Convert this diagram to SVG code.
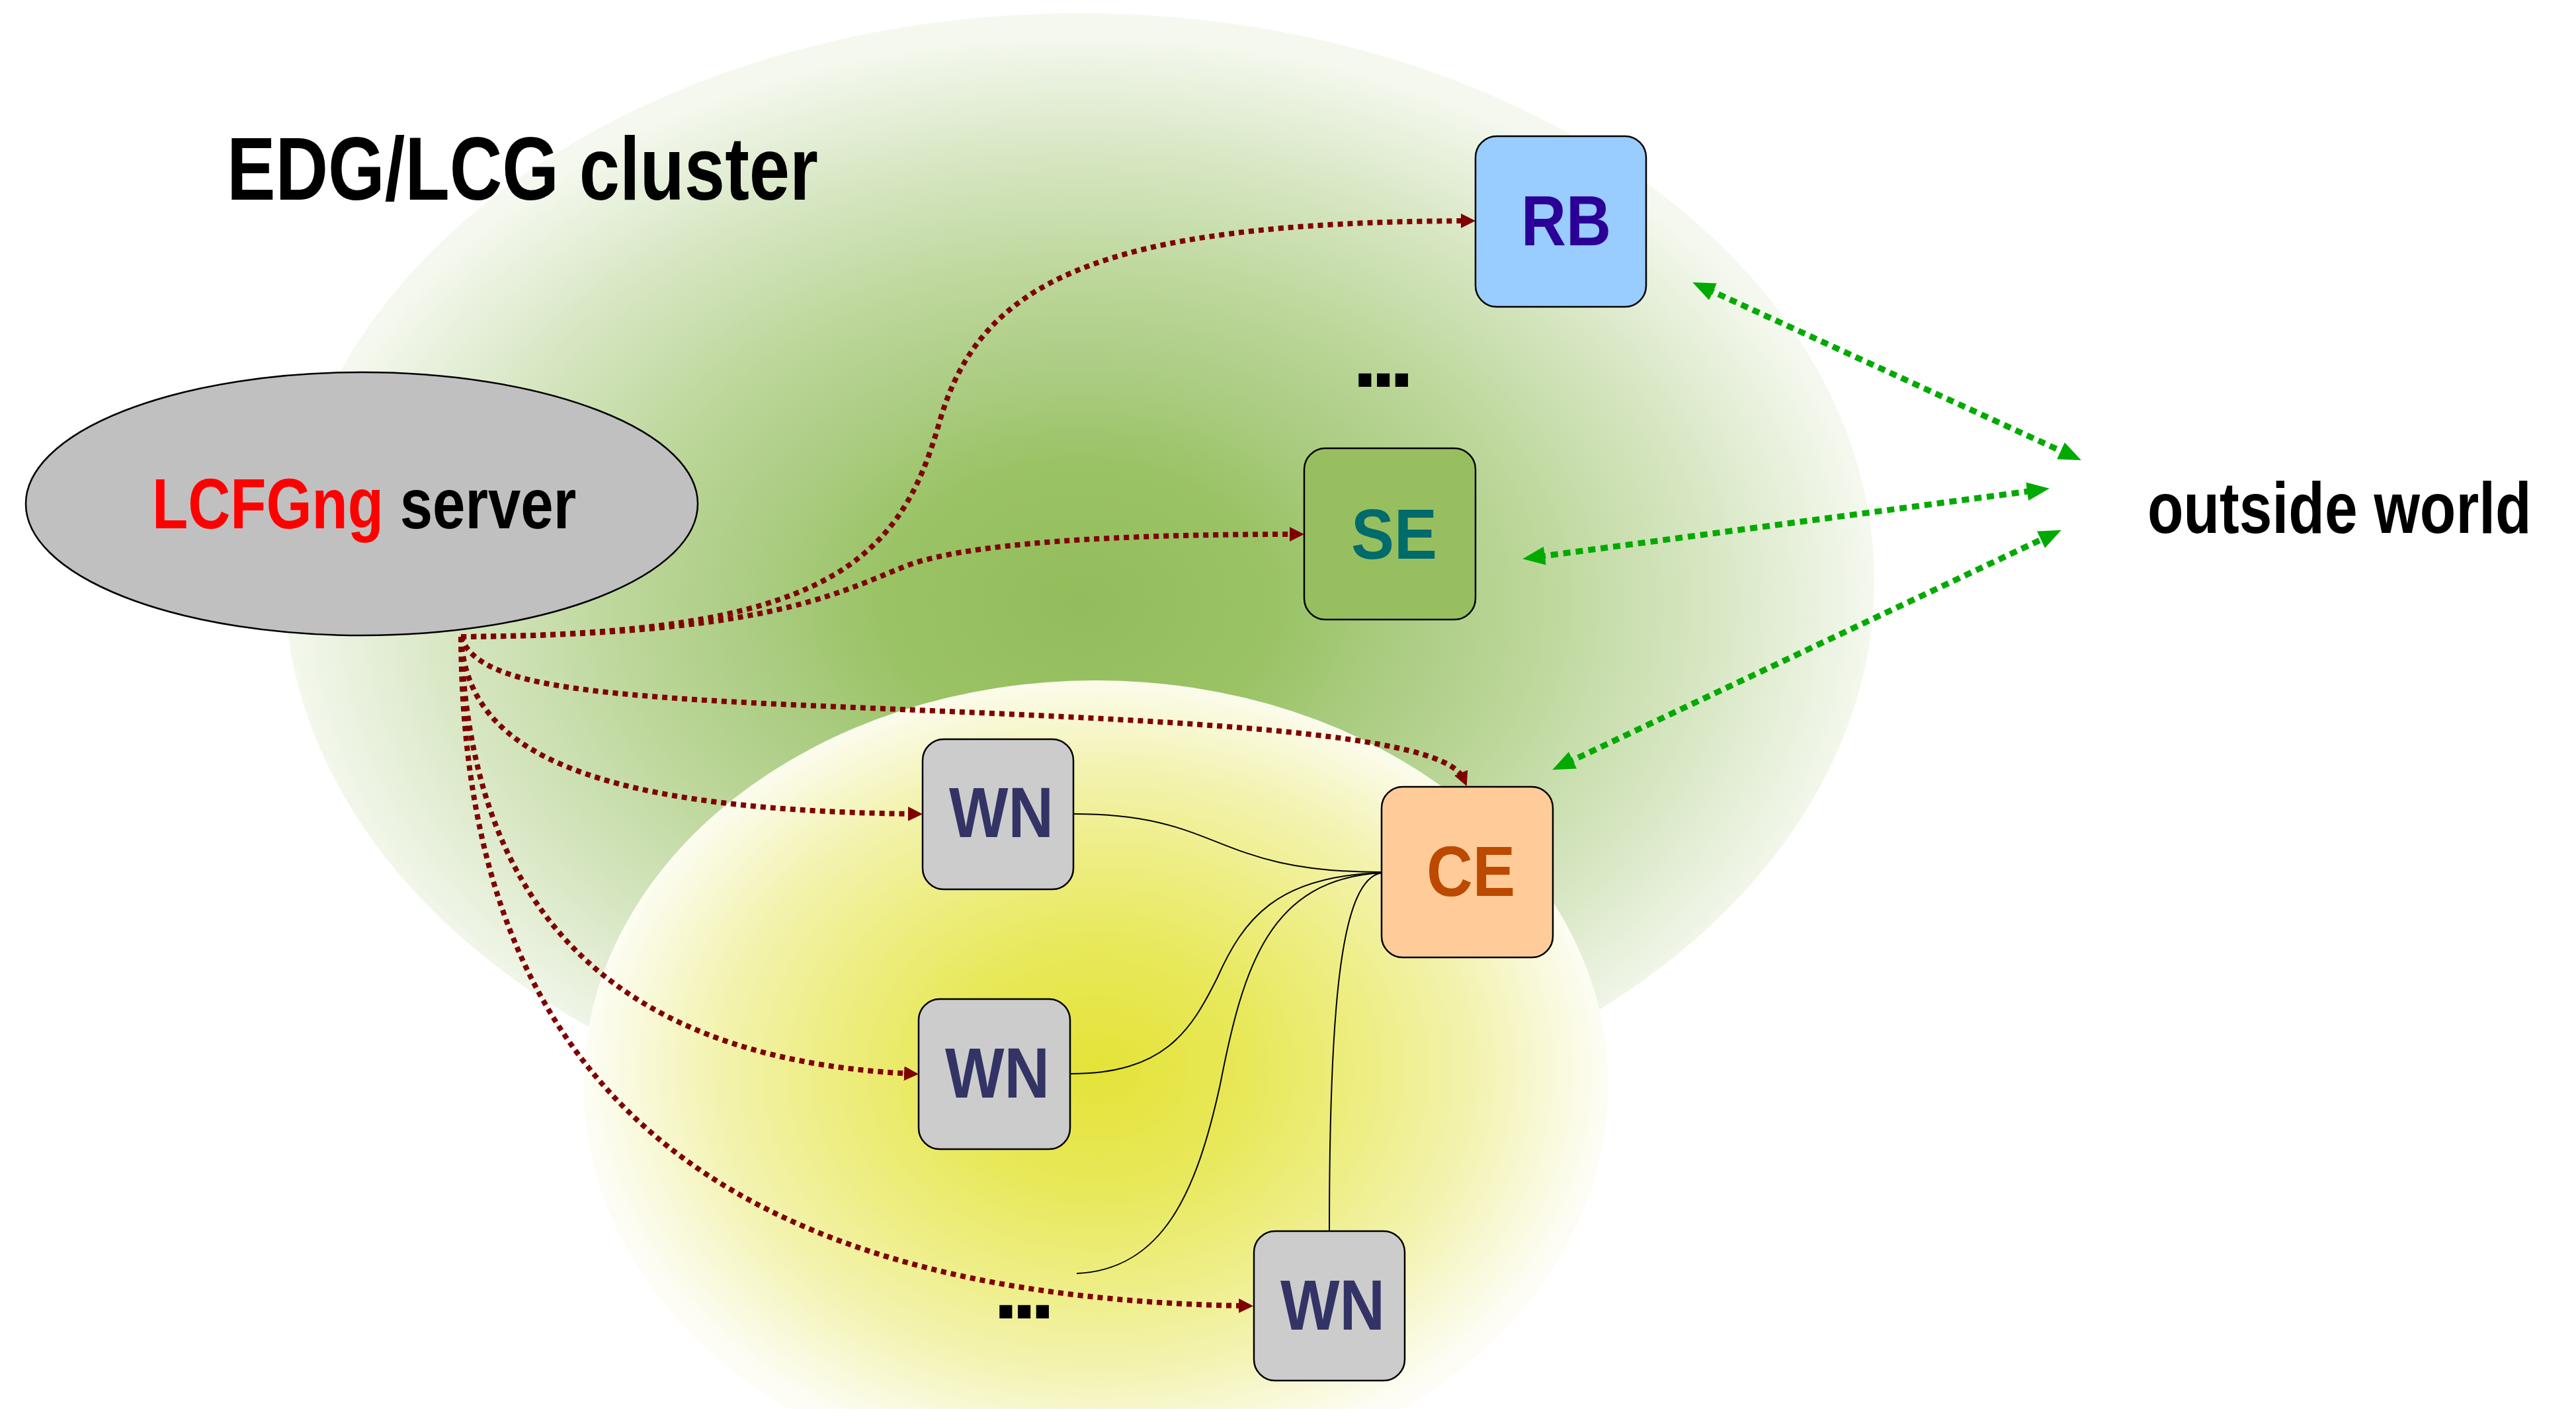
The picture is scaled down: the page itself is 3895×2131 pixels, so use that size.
<svg xmlns="http://www.w3.org/2000/svg" width="3895" height="2131" viewBox="0 0 3895 2131">
<style>
.lbl{font-family:"Liberation Sans",Arial,sans-serif;font-weight:bold}
.box{stroke:#000;stroke-width:2.5}
.red{fill:none;stroke:#800000;stroke-width:8;stroke-dasharray:8 7;marker-end:url(#ar)}
.grn{fill:none;stroke:#00aa00;stroke-width:9;stroke-dasharray:11 8;marker-start:url(#ag);marker-end:url(#ag)}
.wire{fill:none;stroke:#000;stroke-width:2}
</style>
<defs>
<radialGradient id="gGreen" cx="0.5" cy="0.52" r="0.5">
<stop offset="0" stop-color="#93bd5c"/>
<stop offset="0.25" stop-color="#9ac365"/>
<stop offset="0.38" stop-color="#a8cb7e"/>
<stop offset="0.58" stop-color="#bdd79b"/>
<stop offset="0.8" stop-color="#d8e7c4"/>
<stop offset="1" stop-color="#f4f8ee"/>
</radialGradient>
<radialGradient id="gYellow" cx="0.5" cy="0.48" r="0.5">
<stop offset="0" stop-color="#e3e338"/>
<stop offset="0.3" stop-color="#e8e85a"/>
<stop offset="0.55" stop-color="#eeee88"/>
<stop offset="0.75" stop-color="#f3f3b2"/>
<stop offset="0.9" stop-color="#f9f9dc"/>
<stop offset="1" stop-color="#fdfdf6"/>
</radialGradient>
<marker id="ar" markerUnits="userSpaceOnUse" markerWidth="24" markerHeight="24" refX="10" refY="11" orient="auto">
<path d="M0,0 L22,11 L0,22 z" fill="#800000"/>
</marker>
<marker id="ag" markerUnits="userSpaceOnUse" markerWidth="38" markerHeight="32" refX="10" refY="14" orient="auto-start-reverse">
<path d="M0,0 L34,14 L0,28 z" fill="#00aa00"/>
</marker>
</defs>

<g id="background">
<ellipse id="cluster-area" cx="1632" cy="878" rx="1202" ry="858" fill="url(#gGreen)"/>
<ellipse id="worker-area" cx="1657" cy="1641" rx="775" ry="612" fill="url(#gYellow)"/>
</g>

<g id="title">
<text class="lbl" x="343" y="302" font-size="136" textLength="894" lengthAdjust="spacingAndGlyphs" fill="#000">EDG/LCG cluster</text>
</g>

<g id="n-server">
<ellipse cx="547" cy="762" rx="508" ry="199" fill="#c0c0c0" stroke="#000" stroke-width="2.5"/>
<text class="lbl" transform="translate(230 799) scale(0.822 1)" x="0" y="0" font-size="108"><tspan fill="#ff0000">LCFGng</tspan><tspan fill="#000"> server</tspan></text>
</g>

<g id="connectors">
<path class="red" d="M697 963 C1250 960 1360 850 1420 640 S1650 336 2219 334"/>
<path class="red" d="M697 963 C1150 960 1260 900 1360 860 C1450 820 1700 808 1960 808"/>
<path class="red" d="M697 963 C720 1030 850 1050 1200 1066 C1700 1088 2180 1100 2213 1178"/>
<path class="red" d="M697 963 C705 1120 850 1225 1383 1231"/>
<path class="red" d="M697 963 C710 1350 900 1600 1377 1624"/>
<path class="red" d="M697 963 C700 1550 980 1960 1883 1975"/>
<path class="wire" d="M1623 1231 C1850 1231 1830 1319 2089 1319"/>
<path class="wire" d="M1618 1624 C1760 1624 1800 1560 1840 1480 C1880 1390 1930 1325 2089 1320"/>
<path class="wire" d="M1628 1926 C1760 1920 1810 1800 1845 1640 C1880 1460 1920 1330 2089 1320"/>
<path class="wire" d="M2010 1862 C2010 1500 2030 1330 2089 1320"/>
<path class="grn" d="M2581 437 L3125 686"/>
<path class="grn" d="M2326 842 L3075 742"/>
<path class="grn" d="M2369 1154 L3095 812"/>
</g>

<g id="n-rb">
<rect class="box" x="2231" y="206" width="258" height="258" rx="32" fill="#99ccff"/>
<text class="lbl" x="2368" y="371" font-size="108" text-anchor="middle" textLength="136" lengthAdjust="spacingAndGlyphs" fill="#2b0096">RB</text>
</g>

<g id="n-se">
<rect class="box" x="1972" y="678" width="259" height="259" rx="32" fill="#97bf60"/>
<text class="lbl" x="2108" y="845" font-size="108" text-anchor="middle" textLength="130" lengthAdjust="spacingAndGlyphs" fill="#006b6b">SE</text>
</g>

<g id="n-ce">
<rect class="box" x="2089" y="1190" width="259" height="258" rx="32" fill="#ffcc99"/>
<text class="lbl" x="2224" y="1355" font-size="108" text-anchor="middle" textLength="134" lengthAdjust="spacingAndGlyphs" fill="#bb4a00">CE</text>
</g>

<g id="n-wn1">
<rect class="box" x="1395" y="1118" width="228" height="227" rx="32" fill="#cccccc"/>
<text class="lbl" x="1514" y="1266" font-size="108" text-anchor="middle" textLength="158" lengthAdjust="spacingAndGlyphs" fill="#333366">WN</text>
</g>

<g id="n-wn2">
<rect class="box" x="1389" y="1511" width="229" height="227" rx="32" fill="#cccccc"/>
<text class="lbl" x="1508" y="1660" font-size="108" text-anchor="middle" textLength="158" lengthAdjust="spacingAndGlyphs" fill="#333366">WN</text>
</g>

<g id="n-wn3">
<rect class="box" x="1896" y="1862" width="228" height="226" rx="32" fill="#cccccc"/>
<text class="lbl" x="2015" y="2011" font-size="108" text-anchor="middle" textLength="158" lengthAdjust="spacingAndGlyphs" fill="#333366">WN</text>
</g>

<g id="n-outside">
<text class="lbl" transform="translate(3247 806) scale(0.812 1)" x="0" y="0" font-size="110" fill="#000">outside world</text>
</g>

<g id="ellipses">
<text class="lbl" x="2045" y="585" font-size="136" letter-spacing="-10" fill="#000">...</text>
<text class="lbl" x="1502" y="1994" font-size="136" letter-spacing="-10" fill="#000">...</text>
</g>
</svg>
